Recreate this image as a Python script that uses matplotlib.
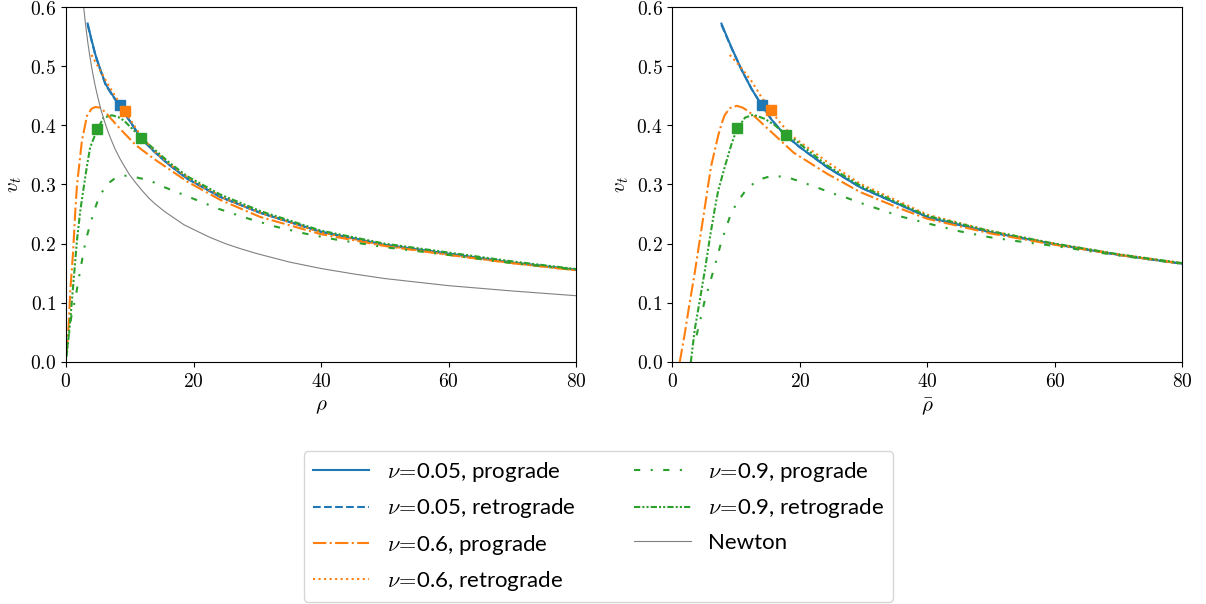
import matplotlib.pyplot as plt
from matplotlib.ticker import FuncFormatter

plt.rcParams['mathtext.fontset'] = 'cm'
plt.rcParams['font.family'] = ['DejaVu Sans']

# ---- left panel (rho) ----
L_nu005_pro_x = [3.4, 4.0, 4.6, 5.4, 6.2, 7.3, 8.4, 10.4, 11.7, 13.7, 16.1, 19.0, 24.2, 30.5, 40, 50, 60, 70, 80]
L_nu005_pro_y = [0.572, 0.545, 0.520, 0.494, 0.470, 0.451, 0.434, 0.401, 0.379, 0.357, 0.334, 0.310, 0.279, 0.252, 0.220, 0.198, 0.183, 0.168, 0.156]
L_nu005_ret_x = [3.4, 4.0, 4.6, 5.4, 6.2, 7.3, 8.4, 10.4, 11.7, 13.7, 16.1, 19.0, 24.2, 30.5, 40, 50, 60, 70, 80]
L_nu005_ret_y = [0.570, 0.544, 0.519, 0.493, 0.469, 0.450, 0.433, 0.401, 0.379, 0.357, 0.334, 0.310, 0.279, 0.252, 0.220, 0.198, 0.183, 0.168, 0.156]
L_nu06_pro_x = [0.1, 0.42, 0.68, 1.1, 1.47, 1.73, 2.5, 3.3, 4.0, 4.6, 5.3, 6.2, 7.0, 8.5, 10.9, 13.7, 16.7, 19.0, 24.2, 30.5, 40, 50, 60, 70, 80]
L_nu06_pro_y = [0.015, 0.060, 0.121, 0.183, 0.256, 0.299, 0.374, 0.416, 0.428, 0.431, 0.430, 0.422, 0.412, 0.394, 0.367, 0.344, 0.322, 0.305, 0.274, 0.245, 0.216, 0.196, 0.181, 0.167, 0.155]
L_nu06_ret_x = [4.0, 5.0, 6.7, 9.2, 11.7, 14, 17, 20, 25, 30.5, 40, 50, 60, 70, 80]
L_nu06_ret_y = [0.519, 0.500, 0.467, 0.424, 0.383, 0.355, 0.328, 0.305, 0.276, 0.252, 0.219, 0.197, 0.181, 0.167, 0.155]
L_nu09_pro_x = [0.1, 0.42, 0.83, 1.47, 2.25, 3.1, 4.4, 5.2, 6.4, 7.5, 8.5, 9.5, 10.6, 13.1, 15.3, 19.5, 23.9, 28.4, 32.8, 37.5, 42.3, 50, 60, 70, 80]
L_nu09_pro_y = [0.020, 0.043, 0.076, 0.107, 0.156, 0.206, 0.255, 0.279, 0.300, 0.309, 0.314, 0.315, 0.313, 0.307, 0.296, 0.278, 0.259, 0.243, 0.229, 0.217, 0.207, 0.194, 0.181, 0.167, 0.156]
L_nu09_ret_x = [0.1, 0.68, 1.2, 1.73, 2.25, 2.78, 3.3, 3.8, 4.9, 5.9, 7.2, 8.2, 9.1, 10.3, 11.7, 13.7, 16.1, 19.0, 24.2, 30.5, 40, 50, 60, 70, 80]
L_nu09_ret_y = [0.009, 0.071, 0.138, 0.206, 0.256, 0.295, 0.332, 0.363, 0.393, 0.413, 0.417, 0.414, 0.408, 0.395, 0.380, 0.361, 0.338, 0.314, 0.283, 0.255, 0.222, 0.200, 0.185, 0.170, 0.157]
L_newton_x = [2.5, 2.78, 3.0, 3.2, 3.45, 3.7, 4.0, 4.3, 4.6, 5.0, 5.5, 6.0, 6.5, 7.0, 7.7, 8.5, 9.2, 10, 11, 12, 13, 14, 15.5, 17, 18.5, 20, 22.5, 25, 27.5, 30, 35, 40, 45, 50, 55, 60, 70, 80]
L_newton_y = [0.632, 0.600, 0.577, 0.559, 0.538, 0.520, 0.500, 0.482, 0.466, 0.447, 0.426, 0.408, 0.392, 0.378, 0.360, 0.343, 0.330, 0.316, 0.302, 0.289, 0.277, 0.267, 0.254, 0.243, 0.232, 0.224, 0.211, 0.200, 0.191, 0.183, 0.169, 0.158, 0.149, 0.141, 0.135, 0.129, 0.120, 0.112]
L_mark_x = [8.4, 9.2, 4.9, 11.7]
L_mark_y = [0.434, 0.424, 0.393, 0.378]

# ---- right panel (rho bar) ----
R_nu005_pro_x = [7.7, 8.5, 9.3, 10.85, 12.4, 14.0, 15.6, 17.7, 19.0, 20.0, 24.3, 29.5, 35.8, 40.2, 50, 60, 70, 80]
R_nu005_pro_y = [0.572, 0.551, 0.531, 0.494, 0.462, 0.434, 0.409, 0.383, 0.372, 0.363, 0.329, 0.295, 0.265, 0.244, 0.219, 0.199, 0.181, 0.166]
R_nu005_ret_x = [7.7, 8.5, 9.3, 10.85, 12.4, 14.0, 15.6, 17.7, 19.0, 20.0, 24.3, 29.5, 35.8, 40.2, 50, 60, 70, 80]
R_nu005_ret_y = [0.570, 0.550, 0.530, 0.494, 0.462, 0.434, 0.409, 0.383, 0.372, 0.363, 0.329, 0.295, 0.265, 0.244, 0.219, 0.199, 0.181, 0.166]
R_nu06_pro_x = [1.16, 1.95, 2.7, 3.5, 4.3, 5.1, 5.6, 6.1, 6.7, 7.2, 7.7, 8.2, 9.0, 10.1, 11.0, 11.9, 13.0, 14.5, 17.1, 19.0, 24.3, 29.5, 35.8, 40, 50, 60, 70, 80]
R_nu06_pro_y = [0.0, 0.048, 0.099, 0.150, 0.206, 0.262, 0.298, 0.332, 0.360, 0.383, 0.402, 0.417, 0.429, 0.433, 0.430, 0.424, 0.414, 0.399, 0.373, 0.354, 0.318, 0.287, 0.259, 0.242, 0.217, 0.198, 0.181, 0.166]
R_nu06_ret_x = [9.0, 10.6, 12.4, 13.9, 15.4, 17.0, 19.0, 24.3, 29.5, 35.8, 40, 50, 60, 70, 80]
R_nu06_ret_y = [0.519, 0.500, 0.475, 0.449, 0.426, 0.403, 0.380, 0.338, 0.301, 0.270, 0.249, 0.221, 0.200, 0.182, 0.167]
R_nu09_pro_x = [3.8, 4.56, 5.1, 5.77, 6.4, 7.03, 7.5, 8.4, 9.2, 10.3, 11.7, 13.5, 15.7, 18.1, 20.3, 22.7, 25.1, 27.2, 29.2, 31.4, 35.8, 40.5, 45.0, 49.7, 54.2, 60, 70, 80]
R_nu09_pro_y = [0.045, 0.079, 0.105, 0.129, 0.153, 0.177, 0.196, 0.226, 0.251, 0.272, 0.293, 0.308, 0.315, 0.312, 0.304, 0.295, 0.285, 0.278, 0.270, 0.262, 0.246, 0.233, 0.221, 0.211, 0.204, 0.196, 0.180, 0.166]
R_nu09_ret_x = [2.9, 3.5, 4.3, 5.1, 5.9, 6.7, 7.2, 8.2, 9.3, 10.1, 11.4, 12.7, 14.5, 16.1, 17.8, 19.0, 24.3, 29.5, 35.8, 40, 50, 60, 70, 80]
R_nu09_ret_y = [0.0, 0.054, 0.104, 0.155, 0.211, 0.262, 0.290, 0.329, 0.369, 0.393, 0.413, 0.418, 0.411, 0.400, 0.384, 0.377, 0.332, 0.298, 0.267, 0.247, 0.221, 0.200, 0.182, 0.167]
R_mark_x = [14.0, 15.4, 10.1, 17.8]
R_mark_y = [0.434, 0.426, 0.395, 0.384]

mark_colors = ['tab:blue', 'tab:orange', 'tab:green', 'tab:green']
labels = [r'$\nu\!=\!$0.05, prograde', r'$\nu\!=\!$0.05, retrograde',
          r'$\nu\!=\!$0.6, prograde', r'$\nu\!=\!$0.6, retrograde',
          r'$\nu\!=\!$0.9, prograde', r'$\nu\!=\!$0.9, retrograde', 'Newton']

styles = [('tab:blue', '-'), ('tab:blue', '--'),
          ('tab:orange', '-.'), ('tab:orange', ':'),
          ('tab:green', (0, (3, 5, 1, 5))), ('tab:green', (0, (3, 1, 1, 1, 1, 1)))]

left_curves = [(L_nu005_pro_x, L_nu005_pro_y), (L_nu005_ret_x, L_nu005_ret_y),
               (L_nu06_pro_x, L_nu06_pro_y), (L_nu06_ret_x, L_nu06_ret_y),
               (L_nu09_pro_x, L_nu09_pro_y), (L_nu09_ret_x, L_nu09_ret_y)]
right_curves = [(R_nu005_pro_x, R_nu005_pro_y), (R_nu005_ret_x, R_nu005_ret_y),
                (R_nu06_pro_x, R_nu06_pro_y), (R_nu06_ret_x, R_nu06_ret_y),
                (R_nu09_pro_x, R_nu09_pro_y), (R_nu09_ret_x, R_nu09_ret_y)]

fig = plt.figure(figsize=(12.06, 6.04), dpi=100)
ax1 = fig.add_axes([0.0547, 0.4007, 0.4230, 0.5877])
ax2 = fig.add_axes([0.5575, 0.4007, 0.4230, 0.5877])

handles = []
for (c, ls), (x, y), lab in zip(styles, left_curves, labels):
    h, = ax1.plot(x, y, color=c, linestyle=ls, lw=1.5, label=lab)
    handles.append(h)
h, = ax1.plot(L_newton_x, L_newton_y, color='grey', lw=0.8, label='Newton')
handles.append(h)
for (c, ls), (x, y) in zip(styles, right_curves):
    ax2.plot(x, y, color=c, linestyle=ls, lw=1.5)

for mx, my, c in zip(L_mark_x, L_mark_y, mark_colors):
    ax1.plot(mx, my, 's', color=c, ms=6.5, zorder=5)
for mx, my, c in zip(R_mark_x, R_mark_y, mark_colors):
    ax2.plot(mx, my, 's', color=c, ms=6.5, zorder=5)

for ax, xl in [(ax1, r'$\rho$'), (ax2, r'$\bar{\rho}$')]:
    ax.set_xlim(0, 80)
    ax.set_ylim(0, 0.6)
    ax.set_xticks([0, 20, 40, 60, 80])
    ax.set_yticks([0, 0.1, 0.2, 0.3, 0.4, 0.5, 0.6])
    ax.xaxis.set_major_formatter(FuncFormatter(lambda v, p: f'${v:g}$'))
    ax.yaxis.set_major_formatter(FuncFormatter(lambda v, p: f'${v:.1f}$'))
    ax.tick_params(labelsize=14)
    ax.set_xlabel(xl, fontsize=15)
    ax.set_ylabel(r'$v_t$', fontsize=15)

fig.legend(handles=handles, loc='lower center', bbox_to_anchor=(0.4963, 0.0),
           ncol=2, labelspacing=0.55, handlelength=2.55, columnspacing=2.6,
           borderaxespad=0.1, prop={'family': 'Lato', 'size': 16})

plt.savefig('out.png', dpi=100)
